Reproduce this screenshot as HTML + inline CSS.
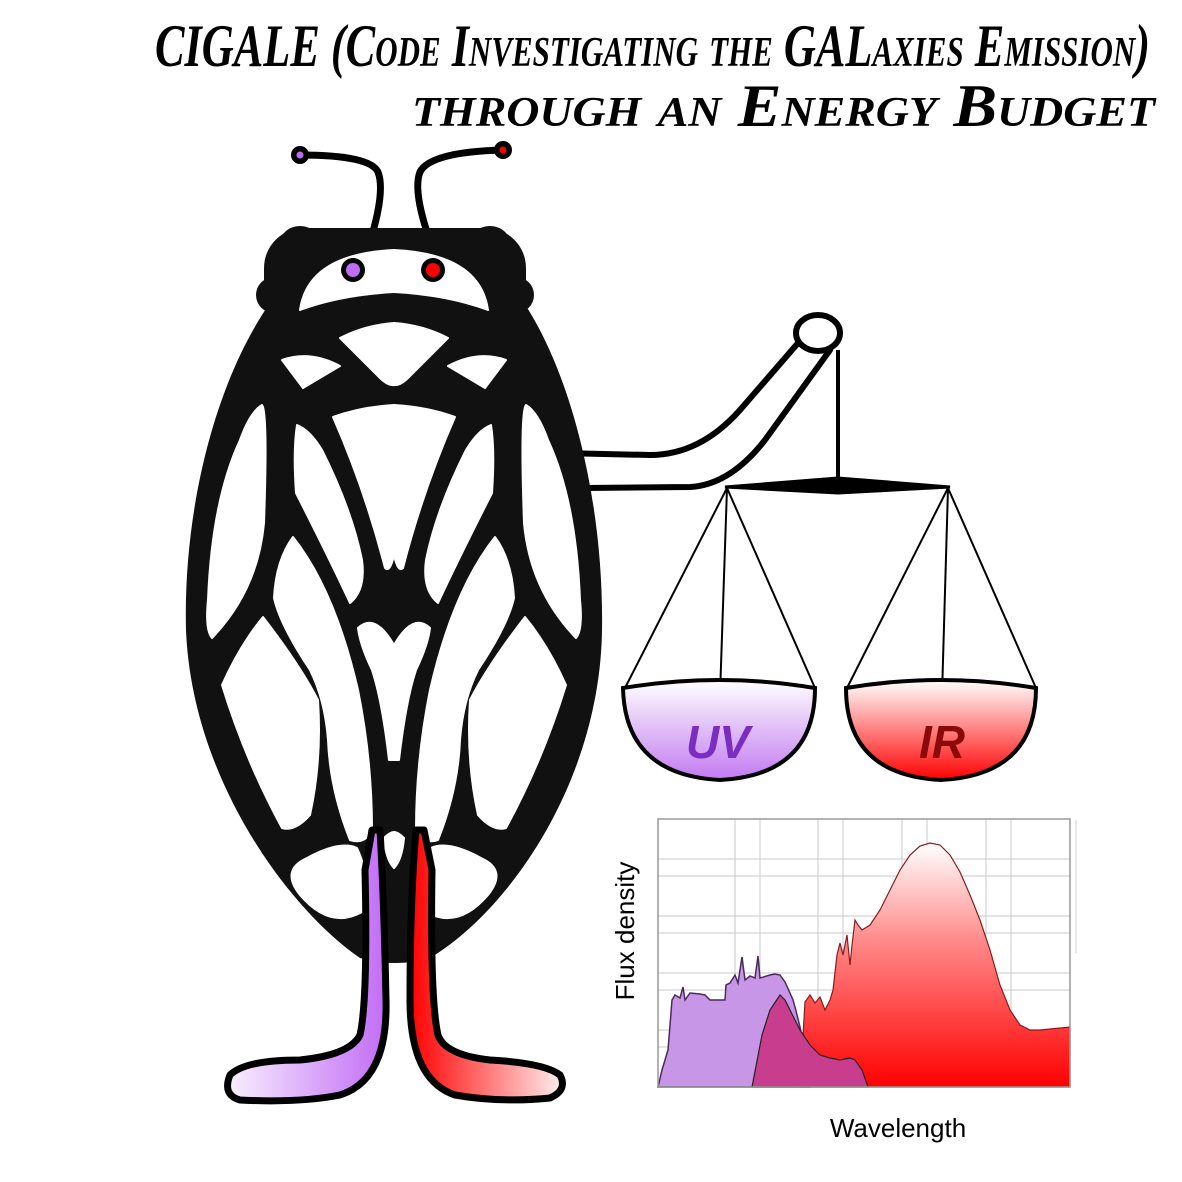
<!DOCTYPE html>
<html><head><meta charset="utf-8"><style>
html,body{margin:0;padding:0;background:#fff;}
svg{display:block;}
.ttl{font-family:"Liberation Serif",serif;font-weight:bold;font-style:italic;font-variant:small-caps;fill:#000;}
.ax{font-family:"Liberation Sans",sans-serif;fill:#000;}
</style></head><body>
<svg id="root" width="1182" height="1182" viewBox="0 0 1182 1182">
<defs>
<linearGradient id="gUV" x1="0" y1="0" x2="0" y2="1"><stop offset="0" stop-color="#fff"/><stop offset="1" stop-color="#c27af0"/></linearGradient>
<linearGradient id="gIR" x1="0" y1="0" x2="0" y2="1"><stop offset="0" stop-color="#fff"/><stop offset="1" stop-color="#f00"/></linearGradient>
<linearGradient id="gFootP" x1="0" y1="0" x2="1" y2="0"><stop offset="0" stop-color="#f8f0ff"/><stop offset="1" stop-color="#c26cf5"/></linearGradient>
<linearGradient id="gFootR" x1="0" y1="0" x2="1" y2="0"><stop offset="0" stop-color="#f00"/><stop offset="1" stop-color="#ffeeee"/></linearGradient>
<linearGradient id="gRed" x1="0" y1="0" x2="0" y2="1"><stop offset="0" stop-color="#fff"/><stop offset="0.4" stop-color="#ff8a8a"/><stop offset="1" stop-color="#f00"/></linearGradient>
</defs>

<text class="ttl" x="155" y="66" font-size="60" textLength="995" lengthAdjust="spacingAndGlyphs">CIGALE (Code Investigating the GALaxies Emission)</text>
<text class="ttl" x="412" y="126" font-size="60" textLength="743" lengthAdjust="spacingAndGlyphs">through an Energy Budget</text>

<g fill="none" stroke="#000" stroke-width="7" stroke-linecap="round">
<path d="M300,155 Q370,155 378,172 Q385,190 372,235"/>
<path d="M502,150 Q430,152 420,172 Q413,190 428,235"/>
</g>
<circle cx="300" cy="155" r="9" fill="#000"/><circle cx="300" cy="155" r="3.5" fill="#c26cf5"/>
<circle cx="503" cy="150" r="9" fill="#000"/><circle cx="503" cy="150" r="3.5" fill="#f00"/>

<g fill="none" stroke="#000" stroke-width="6" stroke-linecap="round">
<path d="M560,453 L650,455 Q700,455 740,410 L805,335"/>
<path d="M585,488 L690,487 Q730,485 765,440 L830,350"/>
</g>
<ellipse cx="818" cy="333" rx="22" ry="18" fill="#fff" stroke="#000" stroke-width="6"/>

<g>
<path d="M272,300 C215,380 183,510 186,630 C192,780 290,910 360,958 Q395,968 430,958 C510,910 600,780 602,630 C604,500 570,370 522,300 Z" fill="#111"/>
<rect x="264" y="228" width="262" height="110" rx="40" fill="#111"/>
<circle cx="300" cy="248" r="22" fill="#111"/><circle cx="490" cy="248" r="22" fill="#111"/>
<circle cx="274" cy="295" r="18" fill="#111"/><circle cx="516" cy="295" r="18" fill="#111"/>
<g id="cellsL" fill="#fff" stroke="#fff" stroke-width="2" stroke-linejoin="round">
<path d="M300,310 Q308,254 394,250 L394,292 Q340,295 300,310 Z"/>
<path d="M340,338 Q365,325 394,323 L394,385 Q388,386 380,378 Z"/>
<path d="M282,360 Q310,350 340,366 L303,388 Z"/>
<path d="M333,417 Q360,407 394,405 L394,555 Q390,573 385,568 Q365,490 333,417 Z"/>
<path d="M358,628 Q375,612 394,645 L394,760 L389,760 Q382,700 372,670 Q360,645 358,628 Z"/>
<path d="M262,405 Q268,410 264,523 Q258,590 212,638 Q205,630 208,600 Q212,500 240,440 Q250,412 262,405 Z"/>
<path d="M297,425 Q310,430 322,450 Q352,510 362,560 Q366,590 350,603 Q330,560 296,493 Q293,450 297,425 Z"/>
<path d="M293,537 Q335,590 358,690 Q372,760 372,830 Q365,845 350,840 Q330,790 328,740 Q325,700 310,670 Q280,625 274,598 Q276,560 293,537 Z"/>
<path d="M263,617 Q300,665 318,700 Q322,760 310,815 Q295,832 282,828 Q245,760 222,685 Q240,645 263,617 Z"/>
<path d="M307,858 Q340,840 357,848 Q372,880 362,912 Q330,930 300,895 Q280,870 307,858 Z"/>
<path d="M384,838 Q390,832 394,832 L394,868 Q386,860 384,838 Z"/>
</g>
<use href="#cellsL" transform="translate(788,0) scale(-1,1)"/>
<circle cx="353" cy="270" r="12" fill="#000"/><circle cx="353" cy="270" r="7" fill="#c26cf5"/>
<circle cx="433" cy="270" r="12" fill="#000"/><circle cx="433" cy="270" r="7" fill="#f00"/>
</g>

<g>
<path d="M372,830 L380,830 Q384,900 386,1000 Q388,1080 340,1095 Q300,1103 240,1100 Q222,1095 230,1075 Q245,1060 300,1060 Q350,1055 360,1035 Q368,1000 365,870 Z" fill="url(#gFootP)" stroke="#000" stroke-width="7" stroke-linejoin="round"/>
<path d="M424,830 L416,830 Q410,900 410,1000 Q410,1080 455,1095 Q500,1103 550,1098 Q568,1090 560,1075 Q545,1063 490,1060 Q445,1055 438,1035 Q430,1000 432,870 Z" fill="url(#gFootR)" stroke="#000" stroke-width="7" stroke-linejoin="round"/>
</g>

<g>
<line x1="838" y1="350" x2="838" y2="478" stroke="#000" stroke-width="4"/>
<path d="M725,487 L838,478 L950,487 L838,493 Z" fill="#000" stroke="#000" stroke-width="3"/>
<g stroke="#000" stroke-width="2" fill="none">
<line x1="727" y1="488" x2="625" y2="688"/><line x1="727" y1="488" x2="720" y2="695"/><line x1="727" y1="488" x2="815" y2="688"/>
<line x1="948" y1="488" x2="847" y2="688"/><line x1="948" y1="488" x2="942" y2="695"/><line x1="948" y1="488" x2="1036" y2="688"/>
</g>
<path d="M623,688 Q720,672 815,688 Q815,775 720,780 Q625,775 623,688 Z" fill="url(#gUV)" stroke="#000" stroke-width="4"/>
<path d="M846,688 Q941,672 1036,688 Q1036,775 941,780 Q846,775 846,688 Z" fill="url(#gIR)" stroke="#000" stroke-width="4"/>
<text x="718" y="758" font-family="Liberation Sans,sans-serif" font-weight="bold" font-style="italic" font-size="46" fill="#7a2dc0" text-anchor="middle">UV</text>
<text x="942" y="758" font-family="Liberation Sans,sans-serif" font-weight="bold" font-style="italic" font-size="46" fill="#8a0a0a" text-anchor="middle">IR</text>
</g>

<g id="chart">
<g id="grid"></g>
<g id="marks"></g>
<rect x="658" y="819" width="412" height="268" fill="none" stroke="#999" stroke-width="1.5"/>
<line x1="1076" y1="820" x2="1076" y2="953" stroke="#ccc" stroke-width="1"/>
<text class="ax" x="0" y="0" font-size="26" text-anchor="middle" transform="translate(634,931) rotate(-90)">Flux density</text>
<text class="ax" x="898" y="1137" font-size="26" text-anchor="middle">Wavelength</text>
</g>
</svg>
<script>
const gridX = [77, 102, 160, 185, 244, 269, 328, 353];
const gridY = [228, 211, 171, 154, 114, 97, 57, 40];
const irX = [142,147,152,157,162,167,172,175,179,182,185,189,192,194,197,200,204,212,222,232,242,252,262,272,282,292,302,312,322,332,342,352,362,372,382,412];
const irY = [0,85,92,84,90,77,87,97,132,144,132,152,122,142,167,162,157,162,177,197,217,232,241,244,242,232,215,192,167,137,102,77,62,57,57,60];
const attX = [94,104,112,122,127,137,142,152,162,172,182,192,197,204,210];
const attY = [0,52,77,92,87,67,57,42,32,29,27,29,27,17,0];
const stX = [0,4,10,14,17,22,25,27,32,42,47,52,62,67,68,72,77,80,84,87,92,97,100,102,112,117,122,127,132,135,137,142,152];
const stY = [0,17,37,87,92,89,100,87,94,93,92,87,87,87,102,104,112,104,130,107,111,109,131,109,112,113,112,105,94,87,80,60,0];
const X0 = 658, Y0 = 1087, W = 412, H = 268, XMAX = 412, YMAX = 268;
function sx(v){ return X0 + v / XMAX * W; }
function sy(v){ return Y0 - v / YMAX * H; }
const NS = 'http://www.w3.org/2000/svg';
const grid = document.getElementById('grid');
gridX.forEach(v => {
  const l = document.createElementNS(NS, 'line');
  l.setAttribute('x1', sx(v)); l.setAttribute('x2', sx(v)); l.setAttribute('y1', Y0 - H); l.setAttribute('y2', Y0);
  l.setAttribute('stroke', '#c8c8c8'); l.setAttribute('stroke-width', '1');
  
  
  grid.appendChild(l);
});
gridY.forEach(v => {
  const l = document.createElementNS(NS, 'line');
  l.setAttribute('x1', X0); l.setAttribute('x2', X0 + W); l.setAttribute('y1', sy(v)); l.setAttribute('y2', sy(v));
  l.setAttribute('stroke', '#c8c8c8'); l.setAttribute('stroke-width', '1');
  
  
  grid.appendChild(l);
});
function area(xs, ys){
  let d = 'M' + sx(xs[0]) + ',' + sy(0);
  for (let i = 0; i < xs.length; i++) d += ' L' + sx(xs[i]) + ',' + sy(ys[i]);
  d += ' L' + sx(xs[xs.length - 1]) + ',' + sy(0) + ' Z';
  return d;
}
const marks = document.getElementById('marks');
const pIR = document.createElementNS(NS, 'path');
pIR.setAttribute('d', area(irX, irY));
pIR.setAttribute('fill', 'url(#gRed)'); pIR.setAttribute('stroke', '#8b1a1a'); pIR.setAttribute('stroke-width', '1.2');


marks.appendChild(pIR);
const pSt = document.createElementNS(NS, 'path');
pSt.setAttribute('d', area(stX, stY));
pSt.setAttribute('fill', '#c796e6'); pSt.setAttribute('stroke', '#4a2a5a'); pSt.setAttribute('stroke-width', '1.5');


marks.appendChild(pSt);
const pAtt = document.createElementNS(NS, 'path');
pAtt.setAttribute('d', area(attX, attY));
pAtt.setAttribute('fill', '#c93d8e'); pAtt.setAttribute('stroke', '#222'); pAtt.setAttribute('stroke-width', '1.2');


marks.appendChild(pAtt);
</script>
</body></html>
